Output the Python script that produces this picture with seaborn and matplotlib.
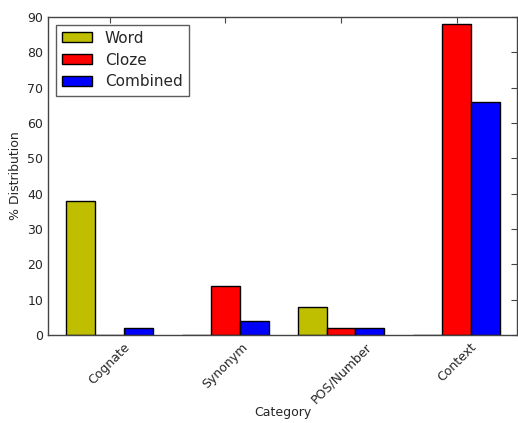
import pandas as pd
import matplotlib
matplotlib.use('Agg')
import matplotlib.pyplot as plt
import seaborn as sns

# Datos
categorias = ['Cognate', 'Synonym', 'POS/Number', 'Context']
series = ['Word', 'Cloze', 'Combined']
word = [38, 0, 8, 0]
cloze = [0, 14, 2, 88]
combined = [2, 4, 2, 66]
colores = ['#bfbf00', '#ff0000', '#0000ff']

# Tabla larga para seaborn
df = pd.DataFrame({
    'Category': categorias * 3,
    'Serie': [s for s in series for _ in categorias],
    'Valor': word + cloze + combined,
})

sns.set_style('white')
plt.rcParams['font.family'] = ['DejaVu Sans']

fig = plt.figure(figsize=(5.18, 4.23), dpi=100)
ax = fig.add_axes([0.093, 0.208, 0.905, 0.752])

sns.barplot(data=df, x='Category', y='Valor', hue='Serie', hue_order=series,
            order=categorias, palette=colores, width=0.75, saturation=1,
            edgecolor='black', linewidth=1, ax=ax)

ax.set_xlim(-0.53, 3.52)
ax.set_ylim(0, 90)
ax.set_yticks(range(0, 91, 10))
ax.set_xlabel('Category', fontsize=9, labelpad=0)
ax.set_ylabel('% Distribution', fontsize=9, labelpad=4)
ax.tick_params(direction='in', top=True, right=True, length=4, width=0.8,
               labelsize=9, color='#444444')
ax.tick_params(axis='x', pad=4)
plt.setp(ax.get_xticklabels(), rotation=45, ha='center')
for s in ax.spines.values():
    s.set_color('#444444')
    s.set_linewidth(1)

leg = ax.legend(loc='upper left', fontsize=11, frameon=True, fancybox=False,
                edgecolor='#333333', handlelength=2.0, handleheight=0.6,
                borderaxespad=0.5, labelspacing=0.45)
leg.get_frame().set_linewidth(1)

fig.savefig('out.png', dpi=100)
